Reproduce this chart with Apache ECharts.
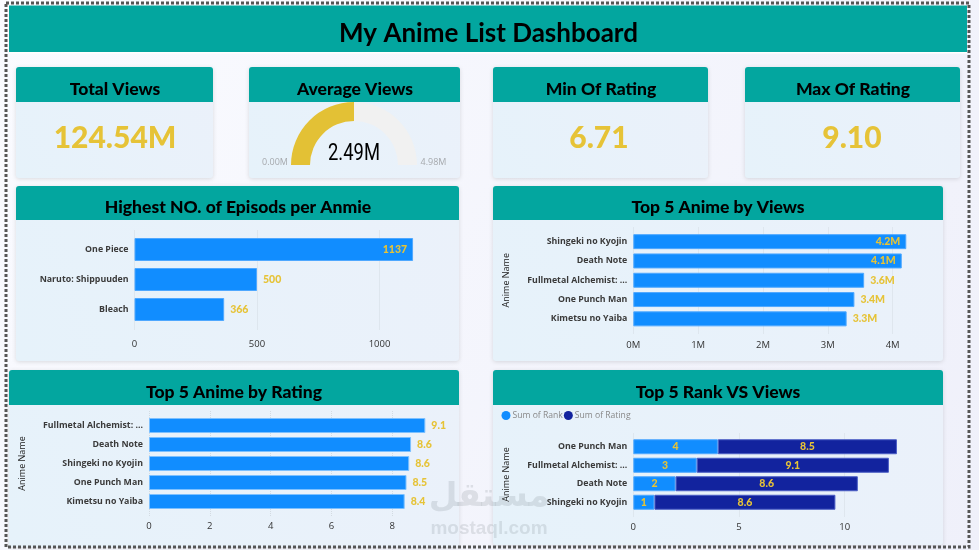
<!DOCTYPE html>
<html>
<head>
<meta charset="utf-8">
<title>My Anime List Dashboard</title>
<script src="https://cdn.jsdelivr.net/npm/echarts@6/dist/echarts.min.js"></script>
<style>
    html, body { margin: 0; padding: 0; background: #f8f9fe; }
    #main { width: 979px; height: 550px; }
</style>
</head>
<body>
<div id="main"></div>
<script>
// data
var kpiTitles = ['Total Views', 'Average Views', 'Min Of Rating', 'Max Of Rating'];
var kpiValues = ['124.54M', '6.71', '9.10'];
var avgViews = 2.49;
var avgViewsMax = 4.98;

var episodeNames = ['One Piece', 'Naruto: Shippuuden', 'Bleach'];
var episodeValues = [1137, 500, 366];
var episodeTicks = [0, 500, 1000];

var viewNames = ['Shingeki no Kyojin', 'Death Note', 'Fullmetal Alchemist: ...', 'One Punch Man', 'Kimetsu no Yaiba'];
var viewValues = [4.21, 4.14, 3.56, 3.41, 3.29];
var viewTicks = [0, 1, 2, 3, 4];

var ratingNames = ['Fullmetal Alchemist: ...', 'Death Note', 'Shingeki no Kyojin', 'One Punch Man', 'Kimetsu no Yaiba'];
var ratingValues = [9.09, 8.62, 8.56, 8.47, 8.41];
var ratingTicks = [0, 2, 4, 6, 8];

var rankNames = ['One Punch Man', 'Fullmetal Alchemist: ...', 'Death Note', 'Shingeki no Kyojin'];
var rankValues = [4, 3, 2, 1];
var rankRatings = [8.47, 9.09, 8.62, 8.56];
var rankTicks = [0, 5, 10];

var TEAL = '#03a69f';
var YELLOW = '#e6c337';
var BLUE = '#118dff';
var NAVY = '#12239e';
var HAND = 'Lato';
var UI = '"Open Sans"';

function card(x, y, w, h, headH) {
    return [{
        type: 'rect', z: 0,
        shape: { x: x, y: y, width: w, height: h, r: 3 },
        style: {
            fill: new echarts.graphic.LinearGradient(0, 1, 1, 0, [
                { offset: 0, color: '#e6f2fa' }, { offset: 1, color: '#ebf1fa' }
            ]),
            shadowBlur: 4, shadowColor: 'rgba(0,0,0,0.13)', shadowOffsetY: 1
        }
    }, {
        type: 'rect', z: 1,
        shape: { x: x, y: y, width: w, height: headH, r: [3, 3, 0, 0] },
        style: { fill: TEAL }
    }];
}

function label(text, x, y, font, fill, align) {
    return {
        type: 'text', z: 5,
        style: { text: text, x: x, y: y, font: font, fill: fill || '#000', align: align || 'center', verticalAlign: 'middle' }
    };
}

function cardTitle(text, cx, cy) {
    return label(text, cx, cy, '900 17.5px ' + HAND);
}

var graphics = [];
graphics = graphics.concat(
    [{ type: 'rect', z: 0, shape: { x: 0, y: 0, width: 979, height: 550 },
       style: { fill: new echarts.graphic.LinearGradient(0, 0, 1, 1, [
           { offset: 0, color: '#fafbff' }, { offset: 1, color: '#eff0fa' }]) } },
     { type: 'rect', z: 0, shape: { x: 9, y: 5.5, width: 958, height: 48 }, style: { fill: '#fff' } },
     { type: 'rect', z: 1, shape: { x: 9, y: 5.5, width: 958, height: 46.5 }, style: { fill: TEAL } }],
    card(16, 67, 197, 111, 35),
    card(249, 67, 211, 111, 35),
    card(493, 67, 215, 111, 35),
    card(745, 67, 215, 111, 35),
    card(16, 186, 443, 175, 34),
    card(493, 186, 450, 175, 34),
    card(9, 370, 450, 177, 35),
    card(493, 370, 450, 175, 35),
    [
        label('My Anime List Dashboard', 488.5, 34, 'bold 26px ' + HAND),
        cardTitle(kpiTitles[0], 115, 89),
        cardTitle(kpiTitles[1], 355, 89),
        cardTitle(kpiTitles[2], 601, 89),
        cardTitle(kpiTitles[3], 853, 89),
        label(kpiValues[0], 115, 138, '900 30px ' + HAND, YELLOW),
        label(kpiValues[1], 599, 138, '900 30px ' + HAND, YELLOW),
        label(kpiValues[2], 852, 138, '900 30px ' + HAND, YELLOW),
        label((0).toFixed(2) + 'M', 275, 162.5, '9px ' + UI, '#a6a9ad'),
        label(avgViewsMax.toFixed(2) + 'M', 433.5, 162.5, '9px ' + UI, '#a6a9ad'),
        // the gauge value is a condensed face in the picture, so squeeze it
        {
            type: 'text', z: 5, x: 354, y: 154.5, scaleX: 0.8,
            style: { text: avgViews.toFixed(2) + 'M', font: '23px Roboto', fill: '#000', align: 'center', verticalAlign: 'middle' }
        },
        cardTitle('Highest NO. of Episods per Anmie', 238, 207),
        cardTitle('Top 5 Anime by Views', 718, 207),
        cardTitle('Top 5 Anime by Rating', 234, 392),
        cardTitle('Top 5 Rank VS Views', 718, 392),
        // dotted frame around the page
        { type: 'rect', z: 6, shape: { x: 6, y: 3, width: 963, height: 544 },
          style: { fill: 'none', stroke: '#555', lineWidth: 3, lineDash: [3, 2] } },
        // site watermark
        label('مستقل', 489, 497, 'bold 33px "DejaVu Sans"', 'rgba(110,120,130,0.18)'),
        label('mostaql.com', 489, 529, 'bold 19px "Liberation Sans"', 'rgba(110,120,130,0.18)')
    ]
);

var grids = [
    { left: 134.5, top: 234.5, width: 294, height: 90 },
    { left: 633.3, top: 232, width: 291.8, height: 96.5 },
    { left: 149, top: 416, width: 288.8, height: 95 },
    { left: 633.3, top: 437.5, width: 285.4, height: 74 }
];

// ticks are drawn up through the plot, a bit past both ends, as the dotted guides
function valueAxis(i, max, ticks, unit, labelGap) {
    var over = 5;
    return {
        type: 'value', gridIndex: i, min: 0, max: max, position: 'bottom', offset: over,
        splitLine: { show: false },
        axisLine: { show: false },
        axisTick: {
            show: true, inside: true, customValues: ticks, length: grids[i].height + over * 2,
            lineStyle: { color: '#d3dbe2', type: 'dotted', width: 1 }
        },
        axisLabel: {
            customValues: ticks, margin: labelGap, color: '#333', fontFamily: UI, fontSize: 9.5,
            formatter: function (v) { return v + unit; }
        }
    };
}

function nameAxis(i, names, axisName, gap) {
    return {
        type: 'category', gridIndex: i, data: names, inverse: true,
        axisLine: { show: false }, axisTick: { show: false },
        axisLabel: { margin: 6, color: '#3a3a3a', fontFamily: UI, fontWeight: 'bold', fontSize: 8.8 },
        name: axisName, nameLocation: 'middle', nameGap: gap, nameRotate: 90,
        nameTextStyle: { color: '#222', fontFamily: UI, fontSize: 9 }
    };
}

function barLabel(formatter, position) {
    return {
        show: true, position: position || 'right', distance: 6, color: YELLOW,
        fontFamily: HAND, fontWeight: 900, fontSize: 10.5, formatter: formatter
    };
}

function barStyle(color, border) {
    return { color: color, borderColor: border, borderWidth: 1 };
}

var chart = echarts.init(document.getElementById('main'));
chart.setOption({
    animation: false,
    graphic: { elements: graphics },
    legend: {
        data: ['Sum of Rank', 'Sum of Rating'], left: 501.5, top: 411, padding: 0,
        icon: 'circle', itemWidth: 9, itemHeight: 9, itemGap: 1,
        itemStyle: { borderWidth: 0 },
        textStyle: { color: '#888', fontFamily: UI, fontSize: 8.6, padding: [0, 0, 0, -3] }
    },
    grid: grids,
    xAxis: [
        valueAxis(0, 1200, episodeTicks, '', 9.5),
        valueAxis(1, 4.5, viewTicks, 'M', 6.5),
        valueAxis(2, 9.5, ratingTicks, '', 5.5),
        valueAxis(3, 13.5, rankTicks, '', 5.5)
    ],
    yAxis: [
        nameAxis(0, episodeNames, '', 0),
        nameAxis(1, viewNames, 'Anime Name', 122),
        nameAxis(2, ratingNames, 'Anime Name', 122),
        nameAxis(3, rankNames, 'Anime Name', 122)
    ],
    series: [{
        type: 'gauge', center: [354, 165], radius: 63, startAngle: 180, endAngle: 0,
        min: 0, max: avgViewsMax,
        axisLine: { lineStyle: { width: 19, color: [[1, '#f1f1f1']] } },
        progress: { show: true, width: 19, itemStyle: { color: '#e3c135' } },
        pointer: { show: false }, axisTick: { show: false }, splitLine: { show: false },
        axisLabel: { show: false }, title: { show: false }, detail: { show: false },
        data: [{ value: avgViews }]
    }, {
        name: 'Episodes', type: 'bar', xAxisIndex: 0, yAxisIndex: 0, barWidth: 23,
        itemStyle: barStyle(BLUE, '#4fa8ff'),
        data: episodeValues.map(function (v) {
            return { value: v, label: barLabel('{c}', v > 1000 ? 'insideRight' : 'right') };
        })
    }, {
        name: 'Views', type: 'bar', xAxisIndex: 1, yAxisIndex: 1, barWidth: 15,
        itemStyle: barStyle(BLUE, '#4fa8ff'),
        data: viewValues.map(function (v) {
            return {
                value: v,
                label: barLabel(function (p) { return p.value.toFixed(1) + 'M'; }, v > 4 ? 'insideRight' : 'right')
            };
        })
    }, {
        name: 'Rating', type: 'bar', xAxisIndex: 2, yAxisIndex: 2, barWidth: 15,
        itemStyle: barStyle(BLUE, '#7cc0ff'),
        label: barLabel(function (p) { return p.value.toFixed(1); }),
        data: ratingValues
    }, {
        name: 'Sum of Rank', type: 'bar', stack: 'rank', xAxisIndex: 3, yAxisIndex: 3, barWidth: 15,
        itemStyle: barStyle(BLUE, '#4fa8ff'),
        label: barLabel('{c}', 'inside'),
        data: rankValues
    }, {
        name: 'Sum of Rating', type: 'bar', stack: 'rank', xAxisIndex: 3, yAxisIndex: 3, barWidth: 15,
        itemStyle: barStyle(NAVY, '#4a5cc4'),
        label: barLabel(function (p) { return p.value.toFixed(1); }, 'inside'),
        data: rankRatings
    }]
});
</script>
</body>
</html>
